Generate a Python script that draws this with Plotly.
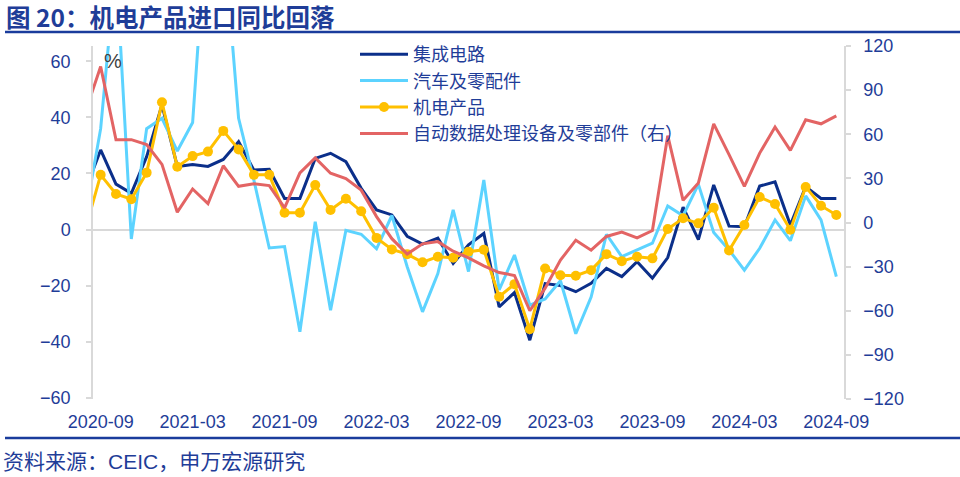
import plotly.graph_objects as go
import pandas as pd

# ---------------- data ----------------
months = [p.strftime("%Y-%m") for p in pd.period_range("2020-08", "2024-09", freq="M")]

# 集成电路 (left axis, %)
ic = [14, 28.4, 16.2, 12.9, 26, 44.5, 22.5, 23.2, 22.5, 25, 31.4, 21.2, 21.5, 11.1, 11.1,
      25.4, 27.2, 24.2, 14.7, 7, 5.2, -2.4, -5.2, -3.1, -12.1, -5.5, -1.4, -27.6, -22.5,
      -39.5, -19.3, -20, -22.2, -19.2, -13.9, -16.8, -11.5, -17.4, -10, 8, -3.6, 15.9,
      1.2, 1, 15.5, 17, 1.6, 15.3, 11.1, 11.1]

# 汽车及零配件 (left axis, %)
auto = [5, 36, 95, -3.4, 36, 39.7, 28, 38.2, 117, 106, 39.7, 17.5, -6.6, -6.1, -36.5,
        2.8, -28.8, -0.3, -1.7, -6.9, 5, -13.3, -29.4, -15.7, 7, -15, 17.7, -21.6, -9.1,
        -27, -24.8, -18.3, -37.2, -24.1, -1.7, -9.7, -7.3, -4.9, 8.4, 4.9, 16.1, -1.1,
        -7.3, -14.5, -6.7, 3.4, -4, 12, 3.4, -16.8]

# 机电产品 (left axis, %)
mech = [0, 19.5, 12.7, 10.8, 20.3, 45.4, 22.4, 26.2, 27.8, 35.2, 28.6, 19.5, 19.5, 6, 6,
        15.9, 7, 11, 6.5, -3, -7.1, -8.8, -11.7, -9.7, -10.1, -7.9, -7.2, -24, -19.5,
        -35.6, -13.9, -16.3, -16.5, -14.5, -8.8, -11.3, -9.7, -10.3, 0.2, 4, 2.2, 7.8,
        -7.5, 1.6, 11.6, 9.1, -0.1, 15.2, 8.5, 5.2]

# 自动数据处理设备及零部件 (right axis, %)
adp = [75, 106, 56.3, 56.3, 53, 39.5, 7, 22.8, 12.9, 38.6, 24.6, 26.4, 25.1, 10, 33.7,
       43.9, 33.5, 29.8, 22, 4, -11, -21.5, -14.5, -13, -19.5, -24, -29.5, -34, -36,
       -60, -44.6, -25.6, -12, -18.8, -9.5, -6.5, -10.4, -5.5, 59, 15.1, 26.9, 67.1,
       46.1, 24.6, 47.2, 64.9, 49, 69.8, 67.1, 72.5]

left_ticks = [-60, -40, -20, 0, 20, 40, 60]
right_ticks = [-120, -90, -60, -30, 0, 30, 60, 90, 120]
label_months = ["2020-09", "2021-03", "2021-09", "2022-03", "2022-09",
                "2023-03", "2023-09", "2024-03", "2024-09"]

# ---------------- geometry ----------------
W, H = 960, 477
L, R, T, B = 93, 116, 46, 78
PW, PH = W - L - R, H - T - B

def px_x(px):
    return (px - L) / PW

def px_y(py):
    return (H - B - py) / PH

x = [i - 1 for i in range(len(months))]          # 2020-09 -> 0
first = months.index("2020-09")
last = months.index("2024-09")
xr = [x[first] - 0.5, x[last] + 0.5]
tick_pos = [x[months.index(m)] for m in label_months]
bound_pos = [x[first] - 0.5 + 3 * k for k in range((last - first) // 3 + 2)]

LEFT_RANGE = [-60.5, 65.5]
RIGHT_RANGE = [-120, 120]
zero_frac = (0 - LEFT_RANGE[0]) / (LEFT_RANGE[1] - LEFT_RANGE[0])

BLUE = "#1F3D98"
GRAY = "#D9D9D9"
FONT = "Liberation Sans, Noto Sans CJK SC, sans-serif"

fig = go.Figure()
fig.add_trace(go.Scatter(x=x, y=ic, name="集成电路", mode="lines",
                         line=dict(color="#0B2F8A", width=3)))
fig.add_trace(go.Scatter(x=x, y=auto, name="汽车及零配件", mode="lines",
                         line=dict(color="#5CD3FF", width=3)))
fig.add_trace(go.Scatter(x=x, y=mech, name="机电产品", mode="lines+markers",
                         line=dict(color="#FFC000", width=3),
                         marker=dict(color="#FFC000", size=10)))
fig.add_trace(go.Scatter(x=x, y=adp, name="自动数据处理设备及零部件（右）", mode="lines",
                         line=dict(color="#E36464", width=3), yaxis="y2"))

fig.update_layout(
    width=W, height=H,
    margin=dict(l=L, r=R, t=T, b=B, autoexpand=False),
    paper_bgcolor="white", plot_bgcolor="white",
    font=dict(family=FONT, size=18, color=BLUE),
    showlegend=True,
    legend=dict(x=px_x(355), y=px_y(36), xanchor="left", yanchor="top",
                bgcolor="rgba(0,0,0,0)", font=dict(size=18, color=BLUE),
                tracegroupgap=0, itemwidth=48),
    xaxis=dict(range=xr, tickvals=tick_pos, ticktext=label_months,
               showline=False, ticks="", showgrid=False, zeroline=False,
               tickfont=dict(size=18, color=BLUE), ticklabelstandoff=10),
    xaxis2=dict(range=xr, overlaying="x", anchor="free", position=zero_frac,
                tickvals=bound_pos, ticks="outside", ticklen=5, tickwidth=1.5,
                tickcolor=GRAY, showticklabels=False, showline=False,
                showgrid=False, zeroline=False),
    yaxis=dict(range=LEFT_RANGE, tickvals=left_ticks, showline=True, linecolor=GRAY,
               linewidth=1.5, ticks="outside", ticklen=5, tickcolor=GRAY, tickwidth=1.5,
               showgrid=False, zeroline=True, zerolinecolor=GRAY, zerolinewidth=1.5,
               tickfont=dict(size=18, color=BLUE), ticklabelstandoff=12),
    yaxis2=dict(range=RIGHT_RANGE, tickvals=right_ticks, overlaying="y", side="right",
                showline=True, linecolor=GRAY, linewidth=1.5, ticks="outside",
                ticklen=5, tickcolor=GRAY, tickwidth=1.5, showgrid=False,
                zeroline=False, tickfont=dict(size=18, color=BLUE),
                ticklabelstandoff=9),
)

# title, rules, source, unit
fig.add_annotation(text="<b>图 20：机电产品进口同比回落</b>", xref="paper", yref="paper",
                   x=px_x(4), y=px_y(17), xanchor="left", yanchor="middle",
                   showarrow=False,
                   font=dict(size=24.5, color=BLUE, family="Noto Sans CJK SC, Liberation Sans"))
fig.add_shape(type="line", xref="paper", yref="paper", x0=px_x(5), x1=px_x(960),
              y0=px_y(32), y1=px_y(32), line=dict(color="#1A3C9C", width=2.5))
fig.add_shape(type="line", xref="paper", yref="paper", x0=px_x(5), x1=px_x(960),
              y0=px_y(438), y1=px_y(438), line=dict(color="#1A3C9C", width=2.5))
fig.add_annotation(text="资料来源：CEIC，申万宏源研究", xref="paper", yref="paper",
                   x=px_x(1), y=px_y(461), xanchor="left", yanchor="middle",
                   showarrow=False, font=dict(size=21, color=BLUE))
fig.add_annotation(text="%", xref="paper", yref="paper", x=px_x(113), y=px_y(61),
                   xanchor="center", yanchor="middle", showarrow=False,
                   font=dict(size=20, color="#404040"))

fig.write_html("out.html", config={"displayModeBar": False},
               post_script="document.body.style.margin='0';document.body.style.overflow='hidden';")
